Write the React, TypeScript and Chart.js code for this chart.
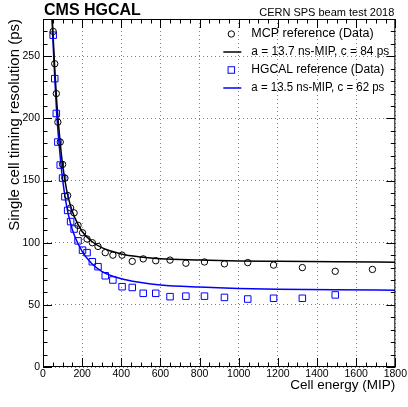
import React, { useEffect, useRef } from "react";
import { Chart, registerables } from "chart.js";

Chart.register(...registerables);

// ---------- data ----------
const mcpEnergy = [52, 60, 68, 76, 88, 100, 112, 126, 141, 159, 179, 202, 225, 252, 281, 318, 357, 404, 456, 512, 576, 649, 730, 825, 927, 1046, 1178, 1325, 1493, 1683];
const mcpResolution = [270, 244, 220, 197, 181, 163, 152, 138, 128, 124, 114, 108, 103, 100, 97, 92, 90, 90, 85, 87, 85.5, 86, 83.5, 84.5, 83, 84, 82, 80, 77, 78.5];

const hgcalEnergy = [52, 60, 68, 76, 88, 100, 112, 126, 141, 159, 179, 202, 225, 252, 281, 318, 357, 404, 456, 512, 576, 649, 730, 825, 927, 1046, 1178, 1325, 1493];
const hgcalResolution = [267, 232, 204, 181, 162.5, 152, 137, 126, 117, 111, 101.5, 94, 92, 84.7, 80.7, 73.4, 70, 64.6, 64, 59.3, 59.3, 56.6, 57, 57, 56, 54.7, 55.3, 55.3, 58];

const fitEnergy = [46, 50, 55, 60, 70, 80, 90, 100, 120, 140, 160, 200, 250, 300, 400, 500, 600, 800, 1000, 1200, 1500, 1800];
const mcpFitResolution = [285, 272, 256, 240, 214, 194, 177, 163, 143, 130, 121, 109, 101, 96, 91, 88.5, 87, 86, 85.3, 85, 84.6, 84.3];
const hgcalFitResolution = [280, 266, 249, 233, 204, 183, 166, 151, 130, 116, 106, 93, 83, 77, 71, 68, 66, 64.3, 63.2, 62.6, 62.1, 61.8];

const legendLabels = [
  "MCP reference (Data)",
  "a = 13.7 ns-MIP, c = 84 ps",
  "HGCAL reference (Data)",
  "a = 13.5 ns-MIP, c = 62 ps",
];
const headerLeft = "CMS HGCAL";
const headerRight = "CERN SPS beam test 2018";
const xTitle = "Cell energy (MIP)";
const yTitle = "Single cell timing resolution (ps)";

const X_MIN = 0, X_MAX = 1800, X_MAJOR = 200, X_MINOR = 50;
const Y_MIN = 0, Y_MAX = 280, Y_MAJOR = 50, Y_MINOR = 10;

const FONT = "'Liberation Sans', Arial, Helvetica, sans-serif";
const BLUE = "#0000ff";

const toPoints = (xs: number[], ys: number[]) => xs.map((x, i) => ({ x, y: ys[i] }));

const rootFramePlugin = {
  id: "rootFrame",
  afterDraw(chart: any) {
    const { ctx, chartArea } = chart;
    const { left, right, top, bottom } = chartArea;
    const xs = chart.scales.x;
    const ys = chart.scales.y;
    ctx.save();
    ctx.strokeStyle = "#000";
    ctx.lineWidth = 1;
    // frame
    ctx.strokeRect(left + 0.5, top + 0.5, right - left - 1, bottom - top - 1);
    // ticks (inside, all four sides)
    ctx.beginPath();
    for (let v = X_MIN; v <= X_MAX + 0.001; v += X_MINOR) {
      const px = Math.round(xs.getPixelForValue(v)) + 0.5;
      const len = v % X_MAJOR === 0 ? 9 : 4.5;
      ctx.moveTo(px, bottom);
      ctx.lineTo(px, bottom - len);
      ctx.moveTo(px, top);
      ctx.lineTo(px, top + len);
    }
    for (let v = Y_MIN; v <= Y_MAX + 0.001; v += Y_MINOR) {
      const py = Math.round(ys.getPixelForValue(v)) + 0.5;
      const len = v % Y_MAJOR === 0 ? 9 : 4.5;
      ctx.moveTo(left, py);
      ctx.lineTo(left + len, py);
      ctx.moveTo(right, py);
      ctx.lineTo(right - len, py);
    }
    ctx.stroke();

    // header texts
    ctx.fillStyle = "#000";
    ctx.textBaseline = "alphabetic";
    ctx.textAlign = "left";
    ctx.font = `bold 16px ${FONT}`;
    ctx.fillText(headerLeft, left + 1, top - 4);
    ctx.textAlign = "right";
    ctx.font = `11px ${FONT}`;
    ctx.fillText(headerRight, right - 1, top - 3.5);

    // legend
    const mx = right - 164;
    const tx = right - 144;
    const rows = [top + 15, top + 33, top + 51, top + 69];
    const widths = [125, 138, 133, 133];
    ctx.font = `12.5px ${FONT}`;
    ctx.textAlign = "left";
    ctx.textBaseline = "middle";
    rows.forEach((ry, i) => ctx.fillText(legendLabels[i], tx, ry, widths[i]));
    // markers
    ctx.lineWidth = 1;
    ctx.strokeStyle = "#000";
    ctx.beginPath();
    ctx.arc(mx, rows[0], 3.2, 0, Math.PI * 2);
    ctx.stroke();
    ctx.lineWidth = 1.5;
    ctx.beginPath();
    ctx.moveTo(mx - 8, rows[1]);
    ctx.lineTo(mx + 10, rows[1]);
    ctx.stroke();
    ctx.strokeStyle = BLUE;
    ctx.lineWidth = 1;
    ctx.strokeRect(mx - 3.25, rows[2] - 3.25, 6.5, 6.5);
    ctx.lineWidth = 1.5;
    ctx.beginPath();
    ctx.moveTo(mx - 8, rows[3]);
    ctx.lineTo(mx + 10, rows[3]);
    ctx.stroke();
    ctx.restore();
  },
};

export default function App() {
  const canvasRef = useRef<HTMLCanvasElement | null>(null);

  useEffect(() => {
    document.body.style.margin = "0";
    const canvas = canvasRef.current;
    if (!canvas) return;
    const chart = new Chart(canvas, {
      type: "scatter",
      data: {
        datasets: [
          {
            label: legendLabels[0],
            data: toPoints(mcpEnergy, mcpResolution),
            pointStyle: "circle",
            pointRadius: 3.2,
            pointBorderWidth: 1,
            borderColor: "#000",
            backgroundColor: "rgba(0,0,0,0)",
            showLine: false,
          },
          {
            label: legendLabels[2],
            data: toPoints(hgcalEnergy, hgcalResolution),
            pointStyle: "rect",
            pointRadius: 4.6,
            pointBorderWidth: 1,
            borderColor: BLUE,
            backgroundColor: "rgba(0,0,0,0)",
            showLine: false,
          },
          {
            label: legendLabels[1],
            data: toPoints(fitEnergy, mcpFitResolution),
            showLine: true,
            pointRadius: 0,
            borderColor: "#000",
            borderWidth: 1.5,
            cubicInterpolationMode: "monotone",
            fill: false,
          },
          {
            label: legendLabels[3],
            data: toPoints(fitEnergy, hgcalFitResolution),
            showLine: true,
            pointRadius: 0,
            borderColor: BLUE,
            borderWidth: 1.5,
            cubicInterpolationMode: "monotone",
            fill: false,
          },
        ],
      },
      options: {
        animation: false,
        responsive: false,
        devicePixelRatio: 1,
        layout: { padding: { top: 19, right: 11, left: 0, bottom: 0 } },
        plugins: {
          legend: { display: false },
          tooltip: { enabled: false },
          title: { display: false },
        },
        scales: {
          x: {
            type: "linear",
            position: "bottom",
            min: X_MIN,
            max: X_MAX,
            afterFit: (s: any) => {
              s.height = 40;
            },
            afterBuildTicks: (s: any) => {
              s.ticks = s.ticks.filter((t: any) => t.value % X_MAJOR === 0);
            },
            ticks: {
              stepSize: X_MAJOR,
              autoSkip: false,
              maxRotation: 0,
              padding: 1,
              color: "#000",
              font: { family: FONT, size: 10.5 },
              callback: (v: any) => String(v),
            },
            grid: {
              drawTicks: false,
              color: "rgba(0,0,0,0.5)",
              lineWidth: 1,
            },
            border: { display: false, dash: [1, 3] },
            title: {
              display: true,
              text: xTitle,
              align: "end",
              color: "#000",
              font: { family: FONT, size: 13.5 },
              padding: { top: 0, bottom: 14 },
            },
          },
          y: {
            type: "linear",
            position: "left",
            min: Y_MIN,
            max: Y_MAX,
            afterFit: (s: any) => {
              s.width = 43;
            },
            afterBuildTicks: (s: any) => {
              s.ticks = s.ticks.filter((t: any) => t.value % Y_MAJOR === 0);
            },
            ticks: {
              stepSize: Y_MAJOR,
              autoSkip: false,
              padding: 3,
              color: "#000",
              font: { family: FONT, size: 10.5 },
              callback: (v: any) => String(v),
            },
            grid: {
              drawTicks: false,
              color: "rgba(0,0,0,0.5)",
              lineWidth: 1,
            },
            border: { display: false, dash: [1, 3] },
            title: {
              display: true,
              text: yTitle,
              align: "end",
              color: "#000",
              font: { family: FONT, size: 15 },
              padding: { top: 6, bottom: 0 },
            },
          },
        },
      },
      plugins: [rootFramePlugin],
    } as any);
    return () => chart.destroy();
  }, []);

  return (
    <div style={{ position: "absolute", left: 0, top: 0, width: 408, height: 407 }}>
      <canvas ref={canvasRef} width={408} height={407} style={{ display: "block" }} />
    </div>
  );
}
